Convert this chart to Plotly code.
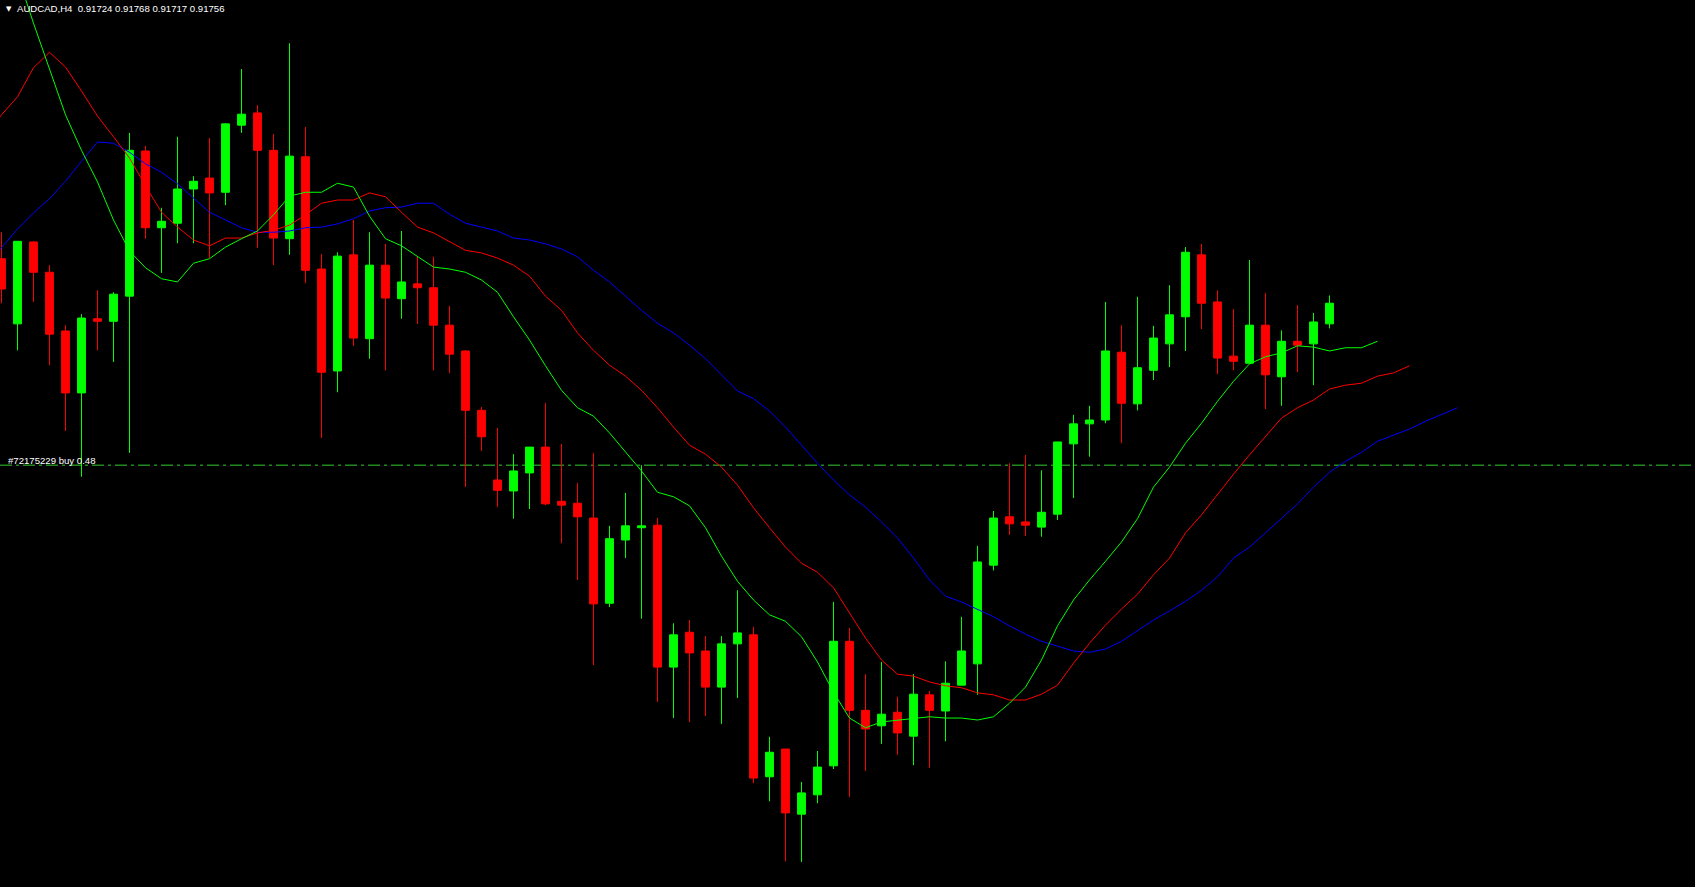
import plotly.graph_objects as go

# ---- AUDCAD H4 candles (prices) ----
opens = [
    0.91825, 0.91724, 0.91851, 0.91804, 0.91713, 0.91617, 0.91732, 0.91728, 0.91767, 0.91992,
    0.91873, 0.91880, 0.91933, 0.91950, 0.91928, 0.92032, 0.92051, 0.91993, 0.91856, 0.91983,
    0.91809, 0.91651, 0.91831, 0.91701, 0.91815, 0.91763, 0.91786, 0.91780, 0.91722, 0.91682,
    0.91590, 0.91482, 0.91465, 0.91493, 0.91533, 0.91449, 0.91446, 0.91423, 0.91291, 0.91389,
    0.91408, 0.91412, 0.91192, 0.91246, 0.91217, 0.91161, 0.91228, 0.91242, 0.91022, 0.91065,
    0.90964, 0.90994, 0.91039, 0.91232, 0.91125, 0.91101, 0.91122, 0.91085, 0.91149, 0.91124,
    0.91164, 0.91197, 0.91350, 0.91425, 0.91417, 0.91409, 0.91429, 0.91538, 0.91569, 0.91575,
    0.91680, 0.91600, 0.91652, 0.91693, 0.91735, 0.91831, 0.91758, 0.91674, 0.91663, 0.91722,
    0.91642, 0.91697, 0.91693, 0.91724,
]
highs = [
    0.91866, 0.91852, 0.91852, 0.91815, 0.91722, 0.91739, 0.91776, 0.91773, 0.92020, 0.92000,
    0.91904, 0.92014, 0.91953, 0.92012, 0.92035, 0.92119, 0.92063, 0.92018, 0.92159, 0.92029,
    0.91832, 0.91835, 0.91885, 0.91866, 0.91848, 0.91868, 0.91829, 0.91828, 0.91752, 0.91683,
    0.91595, 0.91563, 0.91522, 0.91533, 0.91601, 0.91538, 0.91477, 0.91524, 0.91411, 0.91462,
    0.91505, 0.91423, 0.91260, 0.91265, 0.91240, 0.91240, 0.91311, 0.91254, 0.91084, 0.91065,
    0.91014, 0.91062, 0.91293, 0.91253, 0.91181, 0.91200, 0.91146, 0.91181, 0.91155, 0.91201,
    0.91270, 0.91380, 0.91434, 0.91508, 0.91521, 0.91497, 0.91541, 0.91583, 0.91597, 0.91758,
    0.91722, 0.91766, 0.91721, 0.91784, 0.91843, 0.91848, 0.91776, 0.91747, 0.91823, 0.91772,
    0.91714, 0.91753, 0.91741, 0.91768,
]
lows = [
    0.91756, 0.91683, 0.91758, 0.91660, 0.91558, 0.91487, 0.91683, 0.91665, 0.91524, 0.91856,
    0.91803, 0.91849, 0.91849, 0.91826, 0.91908, 0.92020, 0.91842, 0.91815, 0.91831, 0.91787,
    0.91547, 0.91618, 0.91690, 0.91670, 0.91652, 0.91732, 0.91724, 0.91652, 0.91648, 0.91471,
    0.91527, 0.91440, 0.91422, 0.91437, 0.91443, 0.91384, 0.91327, 0.91195, 0.91285, 0.91361,
    0.91267, 0.91138, 0.91113, 0.91107, 0.91116, 0.91104, 0.91144, 0.91012, 0.90984, 0.90891,
    0.90890, 0.90981, 0.91034, 0.90991, 0.91031, 0.91073, 0.91056, 0.91040, 0.91036, 0.91077,
    0.91164, 0.91149, 0.91342, 0.91397, 0.91395, 0.91394, 0.91420, 0.91454, 0.91518, 0.91570,
    0.91539, 0.91590, 0.91637, 0.91657, 0.91682, 0.91716, 0.91646, 0.91652, 0.91663, 0.91592,
    0.91597, 0.91649, 0.91629, 0.91717,
]
closes = [
    0.91778, 0.91852, 0.91804, 0.91708, 0.91617, 0.91733, 0.91728, 0.91770, 0.91993, 0.91873,
    0.91883, 0.91933, 0.91945, 0.91927, 0.92034, 0.92049, 0.91993, 0.91857, 0.91984, 0.91807,
    0.91649, 0.91829, 0.91702, 0.91815, 0.91764, 0.91789, 0.91780, 0.91722, 0.91677, 0.91590,
    0.91549, 0.91466, 0.91496, 0.91533, 0.91445, 0.91443, 0.91425, 0.91290, 0.91391, 0.91411,
    0.91411, 0.91192, 0.91242, 0.91214, 0.91161, 0.91228, 0.91245, 0.91020, 0.91060, 0.90966,
    0.90997, 0.91037, 0.91232, 0.91125, 0.91096, 0.91119, 0.91090, 0.91150, 0.91125, 0.91167,
    0.91217, 0.91355, 0.91423, 0.91414, 0.91412, 0.91432, 0.91541, 0.91569, 0.91575, 0.91682,
    0.91601, 0.91656, 0.91702, 0.91738, 0.91835, 0.91756, 0.91671, 0.91666, 0.91722, 0.91645,
    0.91697, 0.91691, 0.91727, 0.91756,
]

# ---- Alligator lines (values per bar, starting one bar before the first visible candle) ----
lips = [  # green
    0.92420, 0.92342, 0.92265, 0.92190, 0.92119, 0.92048, 0.91993, 0.91944, 0.91885, 0.91837,
    0.91811, 0.91794, 0.91789, 0.91818, 0.91825, 0.91843, 0.91856, 0.91868, 0.91893, 0.91922,
    0.91928, 0.91928, 0.91942, 0.91936, 0.91891, 0.91856, 0.91845, 0.91829, 0.91812, 0.91809,
    0.91804, 0.91792, 0.91773, 0.91735, 0.91699, 0.91659, 0.91621, 0.91594, 0.91581, 0.91555,
    0.91525, 0.91496, 0.91463, 0.91456, 0.91442, 0.91408, 0.91364, 0.91325, 0.91296, 0.91273,
    0.91263, 0.91239, 0.91200, 0.91153, 0.91113, 0.91098, 0.91107, 0.91110, 0.91112, 0.91115,
    0.91113, 0.91113, 0.91110, 0.91115, 0.91136, 0.91161, 0.91203, 0.91256, 0.91296, 0.91327,
    0.91356, 0.91386, 0.91422, 0.91471, 0.91502, 0.91539, 0.91570, 0.91604, 0.91635, 0.91662,
    0.91673, 0.91679, 0.91690, 0.91688, 0.91682, 0.91687, 0.91687, 0.91697,
]
teeth = [  # red
    0.92017, 0.92048, 0.92076, 0.92121, 0.92145, 0.92122, 0.92085, 0.92046, 0.92014, 0.91981,
    0.91938, 0.91897, 0.91874, 0.91854, 0.91845, 0.91857, 0.91857, 0.91865, 0.91869, 0.91877,
    0.91893, 0.91911, 0.91916, 0.91916, 0.91927, 0.91921, 0.91897, 0.91874, 0.91865, 0.91852,
    0.91838, 0.91834, 0.91826, 0.91815, 0.91798, 0.91767, 0.91745, 0.91710, 0.91683, 0.91660,
    0.91643, 0.91621, 0.91594, 0.91564, 0.91536, 0.91522, 0.91502, 0.91474, 0.91439, 0.91408,
    0.91378, 0.91353, 0.91339, 0.91315, 0.91276, 0.91237, 0.91203, 0.91181, 0.91178, 0.91169,
    0.91163, 0.91160, 0.91152, 0.91149, 0.91141, 0.91141, 0.91150, 0.91164, 0.91198, 0.91229,
    0.91257, 0.91282, 0.91305, 0.91335, 0.91361, 0.91400, 0.91428, 0.91460, 0.91491, 0.91521,
    0.91550, 0.91578, 0.91594, 0.91606, 0.91623, 0.91629, 0.91632, 0.91643, 0.91648, 0.91659,
]
jaw = [  # blue
    0.91811, 0.91842, 0.91871, 0.91896, 0.91918, 0.91945, 0.91976, 0.92006, 0.92004, 0.91990,
    0.91972, 0.91959, 0.91941, 0.91919, 0.91897, 0.91885, 0.91873, 0.91866, 0.91866, 0.91868,
    0.91873, 0.91874, 0.91879, 0.91887, 0.91899, 0.91904, 0.91905, 0.91911, 0.91911, 0.91894,
    0.91880, 0.91874, 0.91868, 0.91857, 0.91854, 0.91848, 0.91840, 0.91828, 0.91807, 0.91789,
    0.91767, 0.91745, 0.91725, 0.91710, 0.91691, 0.91670, 0.91645, 0.91620, 0.91608, 0.91589,
    0.91564, 0.91536, 0.91508, 0.91482, 0.91459, 0.91440, 0.91417, 0.91392, 0.91361, 0.91327,
    0.91302, 0.91293, 0.91282, 0.91270, 0.91256, 0.91243, 0.91232, 0.91225, 0.91217, 0.91215,
    0.91220, 0.91232, 0.91249, 0.91265, 0.91279, 0.91294, 0.91311, 0.91332, 0.91361, 0.91378,
    0.91400, 0.91422, 0.91445, 0.91471, 0.91494, 0.91511, 0.91525, 0.91542, 0.91552, 0.91561,
    0.91573, 0.91583, 0.91594,
]

symbol = "AUDCAD,H4"
order_ticket = "#72175229 buy 0.48"
order_price = 0.91505

bars = list(range(len(opens)))
line_x = lambda vals: list(range(-1, len(vals) - 1))

fig = go.Figure()

fig.add_trace(go.Candlestick(
    x=bars, open=opens, high=highs, low=lows, close=closes,
    increasing=dict(line=dict(color="#00FF00", width=1), fillcolor="#00FF00"),
    decreasing=dict(line=dict(color="#FF0000", width=1), fillcolor="#FF0000"),
    whiskerwidth=0, hoverinfo="skip", showlegend=False,
))

for vals, col in ((jaw, "#0000FF"), (teeth, "#FF0000"), (lips, "#00FF00")):
    fig.add_trace(go.Scatter(
        x=line_x(vals), y=vals, mode="lines",
        line=dict(color=col, width=1), hoverinfo="skip", showlegend=False,
    ))

fig.add_shape(
    type="line", xref="paper", x0=0, x1=1, yref="y", y0=order_price, y1=order_price,
    line=dict(color="#32CD32", width=1, dash="12px,4px,3px,4px"), layer="below",
)

W, H = 1695, 887
font = dict(family="Liberation Sans, Arial", size=9.6, color="#FFFFFF")

last = (opens[-1], highs[-1], lows[-1], closes[-1])
header = symbol + "&nbsp;&nbsp;" + " ".join(f"{v:.5f}" for v in last)

fig.add_annotation(text="▼", xref="paper", yref="paper", x=4 / W, y=1 - 9 / H,
                   xanchor="left", yanchor="middle", showarrow=False,
                   font=dict(family="DejaVu Sans", size=7, color="#FFFFFF"))
fig.add_annotation(text=header, xref="paper", yref="paper", x=15 / W, y=1 - 8.5 / H,
                   xanchor="left", yanchor="middle", showarrow=False, font=font)
fig.add_annotation(text=order_ticket, xref="paper", yref="y", x=6 / W, y=order_price,
                   xanchor="left", yanchor="bottom", yshift=-3, showarrow=False, font=font)

fig.update_layout(
    width=W, height=H,
    margin=dict(l=0, r=0, t=0, b=0, pad=0),
    paper_bgcolor="#000000", plot_bgcolor="#000000",
    showlegend=False, boxgap=0.3,
    xaxis=dict(range=[-0.09375, 105.84375], visible=False, showgrid=False,
               zeroline=False, rangeslider=dict(visible=False), fixedrange=True),
    yaxis=dict(range=[0.9085115, 0.92226], visible=False, showgrid=False,
               zeroline=False, fixedrange=True),
)

fig.write_html("out.html", config={"displayModeBar": False},
               post_script="document.body.style.margin='0';document.body.style.background='#000';")
